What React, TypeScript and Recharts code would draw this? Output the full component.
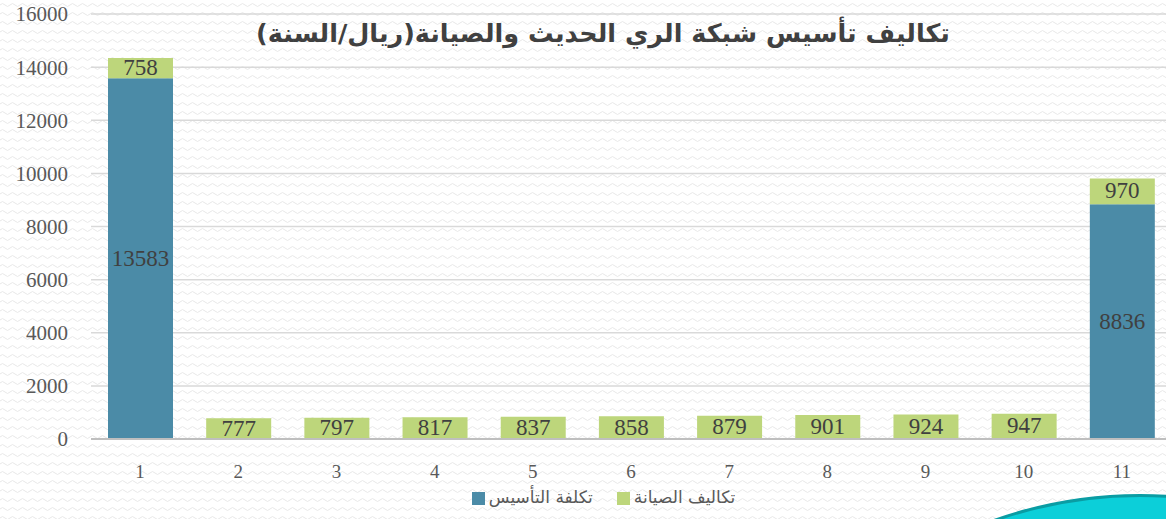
import React from "react";
import { Bar, BarChart, CartesianGrid, LabelList, Legend, XAxis, YAxis } from "recharts";

const categories = ["1", "2", "3", "4", "5", "6", "7", "8", "9", "10", "11"];
const setupCost = [13583, 0, 0, 0, 0, 0, 0, 0, 0, 0, 8836];
const maintenanceCost = [758, 777, 797, 817, 837, 858, 879, 901, 924, 947, 970];
const yTicks = [0, 2000, 4000, 6000, 8000, 10000, 12000, 14000, 16000];

const title = "تكاليف تأسيس شبكة الري الحديث والصيانة(ريال/السنة)";
const setupName = "تكلفة التأسيس";
const maintName = "تكاليف الصيانة";
const legendOrder = [setupName, maintName];

const data = categories.map((c, i) => ({
  name: c,
  setup: setupCost[i],
  maint: maintenanceCost[i],
}));

const numFont = "'Liberation Serif', 'DejaVu Serif', serif";
const arFont = "'DejaVu Sans', sans-serif";

const wave =
  "url(\"data:image/svg+xml;utf8,<svg xmlns='http://www.w3.org/2000/svg' width='10' height='9'><path d='M0 5 Q2.5 2 5 5 T10 5' fill='none' stroke='%23e8e8e8' stroke-width='1'/></svg>\")";

const renderLabel = (props: any) => {
  const { x, y, width, height, value } = props;
  if (!value) return null;
  return (
    <text
      x={x + width / 2}
      y={y + height / 2}
      dy={7}
      textAnchor="middle"
      fill="#404040"
      fontSize={23}
      fontFamily={numFont}
    >
      {value}
    </text>
  );
};

export default function App() {
  return (
    <div
      style={{
        position: "absolute",
        left: 0,
        top: 0,
        width: 1166,
        height: 519,
        overflow: "hidden",
        backgroundColor: "#ffffff",
        backgroundImage: wave,
      }}
    >
      <BarChart
        width={1171}
        height={519}
        data={data}
        margin={{ top: 14, right: 0, left: 0, bottom: 8 }}
        barSize={65}
      >
        <CartesianGrid vertical={false} stroke="#d9d9d9" strokeWidth={1.5} />
        <XAxis
          dataKey="name"
          height={48}
          tickLine={false}
          axisLine={{ stroke: "#bfbfbf", strokeWidth: 2 }}
          tickMargin={20}
          tick={{ fontSize: 19, fill: "#595959", fontFamily: numFont }}
        />
        <YAxis
          width={91}
          domain={[0, 16000]}
          ticks={yTicks}
          axisLine={false}
          tickLine={false}
          tickSize={0}
          tickMargin={23}
          tick={{ fontSize: 21, fill: "#595959", fontFamily: numFont }}
        />
        <Legend
          verticalAlign="bottom"
          height={24}
          iconType="square"
          iconSize={13}
          itemSorter={(item: any) => legendOrder.indexOf(item.value)}
          wrapperStyle={{
            fontFamily: arFont,
            fontSize: 17,
            color: "#595959",
            left: 0,
            width: 1171,
            paddingLeft: 60,
            boxSizing: "border-box",
          }}
          formatter={(v: string) => (
            <span style={{ color: "#595959", marginRight: 14 }}>{v}</span>
          )}
        />
        <Bar dataKey="setup" stackId="a" name={setupName} fill="#4b8ba7" isAnimationActive={false}>
          <LabelList dataKey="setup" content={renderLabel} />
        </Bar>
        <Bar dataKey="maint" stackId="a" name={maintName} fill="#bdd67b" isAnimationActive={false}>
          <LabelList dataKey="maint" content={renderLabel} />
        </Bar>
      </BarChart>
      <div
        style={{
          position: "absolute",
          left: 240,
          top: 18,
          width: 726,
          textAlign: "center",
          direction: "rtl",
          fontFamily: arFont,
          fontWeight: "bold",
          fontSize: 25.5,
          color: "#404040",
        }}
      >
        {title}
      </div>
      <div
        style={{
          position: "absolute",
          left: 1140 - 440,
          top: 494,
          width: 880,
          height: 880,
          borderRadius: "50%",
          background: "#0ccfd9",
          border: "3px solid #0a9ca3",
          boxSizing: "border-box",
        }}
      />
    </div>
  );
}
